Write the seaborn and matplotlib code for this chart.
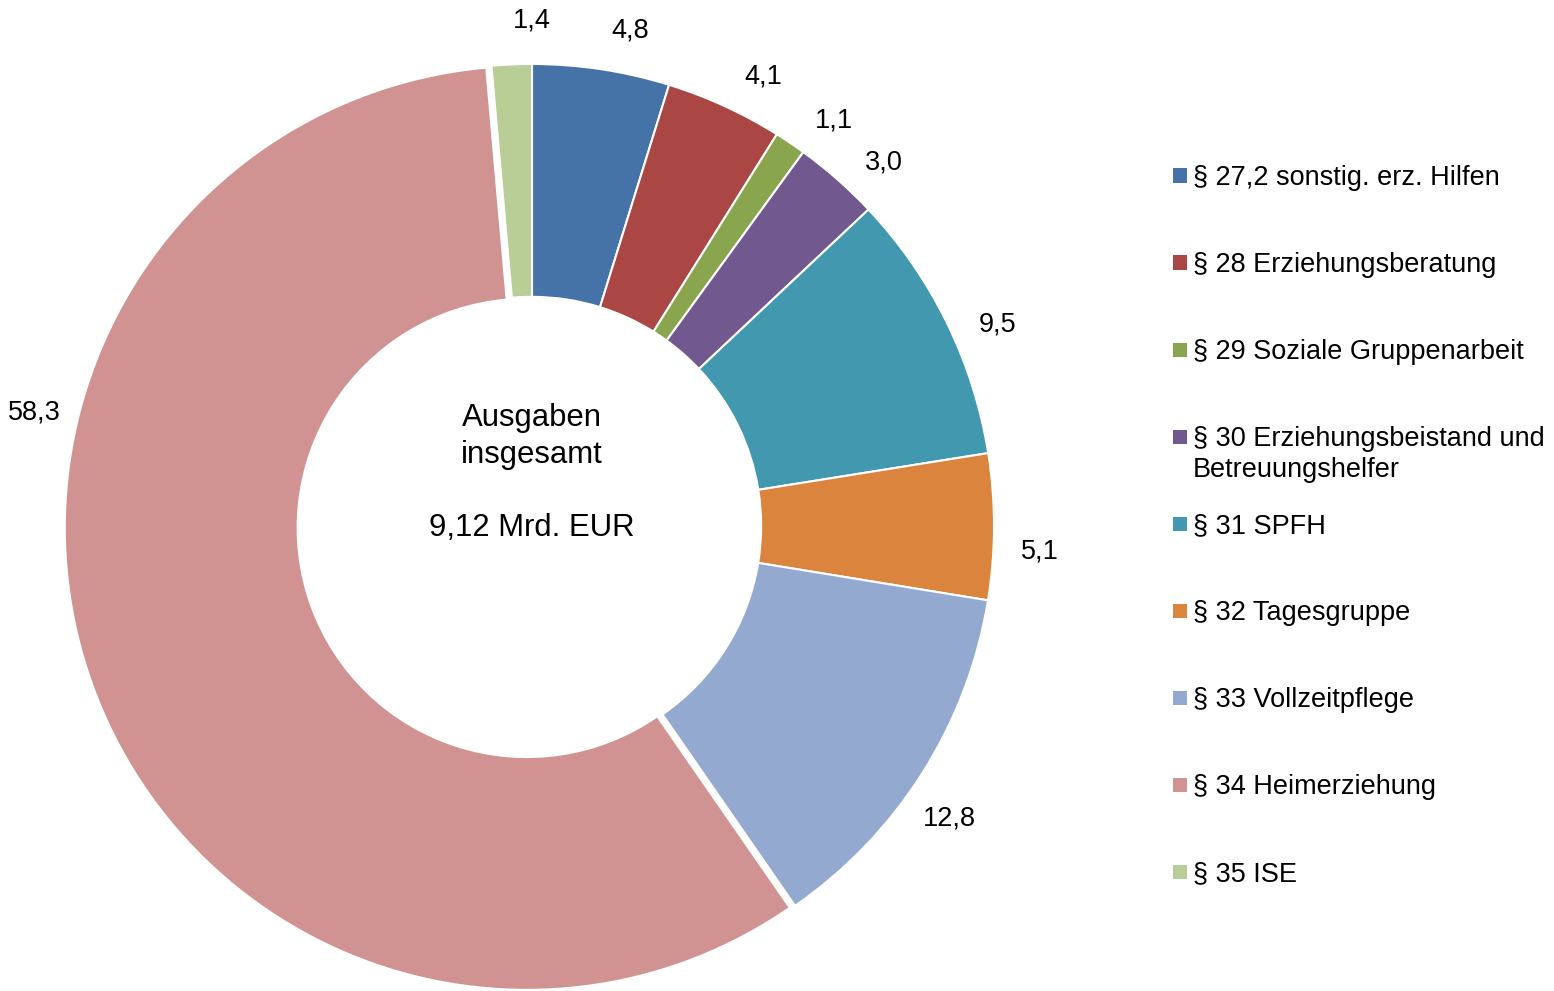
import numpy as np
import matplotlib
matplotlib.use("Agg")
import matplotlib.pyplot as plt
from matplotlib.patches import Rectangle
import seaborn as sns

# ---- data ----
categories = [
    "§ 27,2 sonstig. erz. Hilfen",
    "§ 28 Erziehungsberatung",
    "§ 29 Soziale Gruppenarbeit",
    "§ 30 Erziehungsbeistand und\nBetreuungshelfer",
    "§ 31 SPFH",
    "§ 32 Tagesgruppe",
    "§ 33 Vollzeitpflege",
    "§ 34 Heimerziehung",
    "§ 35 ISE",
]
values = [4.8, 4.1, 1.1, 3.0, 9.5, 5.1, 12.8, 58.3, 1.4]
value_labels = ["4,8", "4,1", "1,1", "3,0", "9,5", "5,1", "12,8", "58,3", "1,4"]
colors = ["#4572A7", "#AA4643", "#89A54E", "#71588F", "#4198AF",
          "#DB843D", "#93A9CF", "#D19392", "#B9CD96"]
explode = [0, 0, 0, 0, 0, 0, 0, 0.012, 0]
center_lines = ["Ausgaben", "insgesamt", "", "9,12 Mrd. EUR"]

sns.set_theme(style="white")
plt.rcParams["font.family"] = ["Liberation Sans", "DejaVu Sans"]

W, H = 1554, 991
fig = plt.figure(figsize=(W / 100, H / 100), dpi=100)
ax = fig.add_axes([0, 0, 1, 1])

# geometry in pixels -> data units (radius 1 = 462 px)
R_PX = 462.0
CX, CY = 532.0, 526.0

wedges, _ = ax.pie(
    values, colors=colors, startangle=90, counterclock=False,
    explode=explode, radius=1.0,
    wedgeprops=dict(width=0.504, edgecolor="white", linewidth=1.5),
    frame=True,
)
ax.set_xlim(-CX / R_PX, (W - CX) / R_PX)
ax.set_ylim((CY - H) / R_PX, CY / R_PX)
ax.set_aspect("auto")
ax.set_axis_off()

LABEL_FS = 19.5
CAP = 0.716 * LABEL_FS * 100 / 72  # cap height in px

# value labels outside (digit centre on a ring around the slices)
for i, (w, lab) in enumerate(zip(wedges, value_labels)):
    ang = np.deg2rad((w.theta1 + w.theta2) / 2 - 2.5)
    r = 1.10
    cx, cy = w.center
    if values[i] == max(values):
        ang = np.deg2rad(166.5)
        r = 1.095
    ax.text(cx + r * np.cos(ang), cy + r * np.sin(ang) - CAP / 2 / R_PX, lab,
            ha="center", va="baseline", fontsize=LABEL_FS, color="black")

# center text
CENTER_FS = 22.4
cap_c = 0.716 * CENTER_FS * 100 / 72
first_center_px = 415
step_px = 36.5
for k, line in enumerate(center_lines):
    if line:
        ypx = first_center_px + k * step_px + cap_c / 2
        ax.text(0, (CY - ypx) / R_PX, line, ha="center", va="baseline",
                fontsize=CENTER_FS, color="black")

# legend (manual, figure pixel coords)
leg_x_box, leg_x_text = 1173, 1193
leg_y0, leg_step, line_step = 175.5, 87, 31
box = 14
for i, (cat, col) in enumerate(zip(categories, colors)):
    y = leg_y0 + i * leg_step
    fig.patches.append(Rectangle((leg_x_box / W, 1 - (y + box / 2) / H),
                                 box / W, box / H, transform=fig.transFigure,
                                 facecolor=col, edgecolor="none"))
    for j, line in enumerate(cat.split("\n")):
        fig.text(leg_x_text / W, 1 - (y + j * line_step + CAP / 2) / H, line,
                 ha="left", va="baseline", fontsize=LABEL_FS, color="black")

fig.savefig("out.png", dpi=100)
